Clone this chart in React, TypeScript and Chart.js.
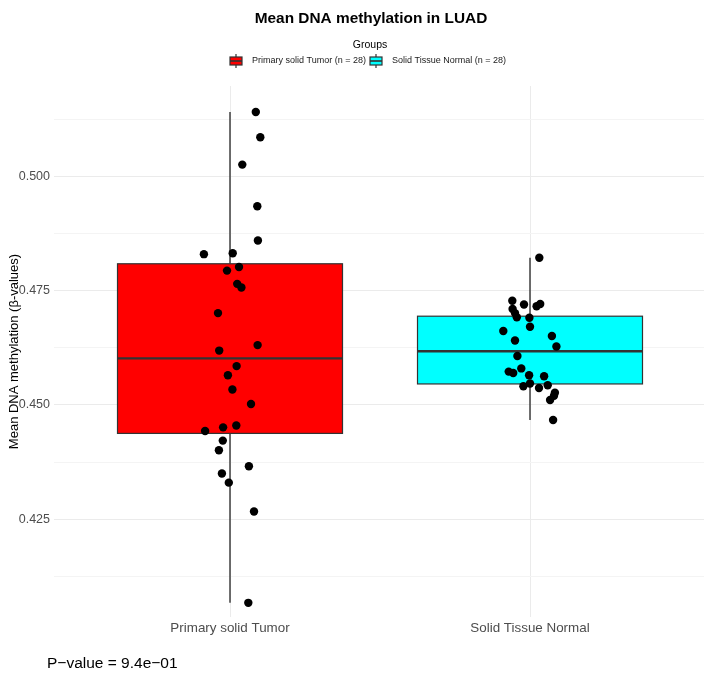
import { useEffect, useRef } from "react";
import { Chart, registerables } from "chart.js";

Chart.register(...registerables);

// Groups and their fills
const groups = ["Primary solid Tumor", "Solid Tissue Normal"];
const groupCounts = [28, 28];
const groupColors = ["#FF0000", "#00FFFF"];

// Per-sample mean methylation (beta values) and horizontal jitter offsets (category units)
const tumorValues = [
  0.5141, 0.5086, 0.5026, 0.4935, 0.486, 0.483, 0.4832, 0.4802, 0.4794, 0.4765,
  0.4757, 0.4701, 0.4631, 0.4619, 0.4585, 0.4565, 0.4534, 0.4502, 0.4455, 0.4451,
  0.4443, 0.4422, 0.4401, 0.4366, 0.435, 0.433, 0.4267, 0.4067,
];
const tumorJitter = [
  0.086, 0.101, 0.041, 0.091, 0.093, -0.087, 0.009, 0.03, -0.01, 0.024,
  0.038, -0.04, 0.092, -0.036, 0.022, -0.007, 0.008, 0.07, 0.021, -0.023,
  -0.083, -0.024, -0.037, 0.063, -0.027, -0.004, 0.08, 0.061,
];
const normalValues = [
  0.4822, 0.4728, 0.472, 0.4721, 0.4716, 0.471, 0.4701, 0.4692, 0.4691, 0.4671,
  0.4662, 0.4651, 0.4641, 0.4628, 0.4607, 0.458, 0.4573, 0.457, 0.4565, 0.4563,
  0.4547, 0.4541, 0.4537, 0.4543, 0.4527, 0.452, 0.4511, 0.4467,
];
const normalJitter = [
  0.031, -0.059, -0.02, 0.034, 0.022, -0.058, -0.05, -0.044, -0.002, 0.0,
  -0.089, 0.073, -0.05, 0.088, -0.042, -0.029, -0.071, -0.056, -0.003, 0.047,
  0.0, -0.022, 0.03, 0.059, 0.083, 0.08, 0.067, 0.077,
];

// Axis ticks
const yMajorTicks = [0.425, 0.45, 0.475, 0.5];
const yMinorTicks = [0.4125, 0.4375, 0.4625, 0.4875, 0.5125];
const yRange = [0.4036, 0.5198];
const xRange = [0.4133, 2.58];

const titleText = "Mean DNA methylation in LUAD";
const legendTitle = "Groups";
const yAxisTitle = "Mean DNA methylation (\u03b2-values)";
const pValueLabel = "P\u2212value = 9.4e\u221201";

const FONT = "'Liberation Sans', Arial, Helvetica, sans-serif";

function quantile(sorted: number[], p: number): number {
  const pos = (sorted.length - 1) * p;
  const lo = Math.floor(pos);
  const hi = Math.ceil(pos);
  return sorted[lo] + (sorted[hi] - sorted[lo]) * (pos - lo);
}

function boxStats(values: number[]) {
  const s = [...values].sort((a, b) => a - b);
  const q1 = quantile(s, 0.25);
  const med = quantile(s, 0.5);
  const q3 = quantile(s, 0.75);
  const iqr = q3 - q1;
  const lower = s.filter((v) => v >= q1 - 1.5 * iqr)[0];
  const upperAll = s.filter((v) => v <= q3 + 1.5 * iqr);
  const upper = upperAll[upperAll.length - 1];
  return { q1, med, q3, lower, upper };
}

const groupValues = [tumorValues, normalValues];

const boxPlugin = {
  id: "boxes",
  beforeDatasetsDraw(chart: any) {
    const { ctx, scales } = chart;
    const x = scales.x;
    const y = scales.y;
    groupValues.forEach((vals, i) => {
      const st = boxStats(vals);
      const xc = x.getPixelForValue(i + 1);
      const half = x.getPixelForValue(i + 1 + 0.375) - xc;
      ctx.save();
      ctx.strokeStyle = "#333333";
      // whiskers
      ctx.lineWidth = 1.4;
      ctx.beginPath();
      ctx.moveTo(xc, y.getPixelForValue(st.upper));
      ctx.lineTo(xc, y.getPixelForValue(st.q3));
      ctx.moveTo(xc, y.getPixelForValue(st.q1));
      ctx.lineTo(xc, y.getPixelForValue(st.lower));
      ctx.stroke();
      // box
      const top = y.getPixelForValue(st.q3);
      const bot = y.getPixelForValue(st.q1);
      ctx.fillStyle = groupColors[i];
      ctx.fillRect(xc - half, top, half * 2, bot - top);
      ctx.lineWidth = 1.2;
      ctx.strokeRect(xc - half, top, half * 2, bot - top);
      // median
      ctx.lineWidth = 2.4;
      const ym = y.getPixelForValue(st.med);
      ctx.beginPath();
      ctx.moveTo(xc - half, ym);
      ctx.lineTo(xc + half, ym);
      ctx.stroke();
      ctx.restore();
    });
  },
};

function drawKey(ctx: CanvasRenderingContext2D, cx: number, cy: number, color: string) {
  ctx.save();
  ctx.strokeStyle = "#333333";
  ctx.lineWidth = 1.2;
  ctx.beginPath();
  ctx.moveTo(cx, cy - 7);
  ctx.lineTo(cx, cy - 4);
  ctx.moveTo(cx, cy + 4);
  ctx.lineTo(cx, cy + 7);
  ctx.stroke();
  ctx.fillStyle = color;
  ctx.fillRect(cx - 6, cy - 4, 12, 8);
  ctx.strokeRect(cx - 6, cy - 4, 12, 8);
  ctx.lineWidth = 1.6;
  ctx.beginPath();
  ctx.moveTo(cx - 6, cy);
  ctx.lineTo(cx + 6, cy);
  ctx.stroke();
  ctx.restore();
}

const annotationPlugin = {
  id: "annotations",
  afterDraw(chart: any) {
    const ctx: CanvasRenderingContext2D = chart.ctx;
    ctx.save();
    ctx.fillStyle = "#000000";
    ctx.textBaseline = "middle";
    // title
    ctx.font = `bold 15.4px ${FONT}`;
    ctx.textAlign = "center";
    ctx.fillText(titleText, 371, 19);
    // legend
    ctx.font = `10.5px ${FONT}`;
    ctx.fillText(legendTitle, 370, 45);
    ctx.font = `9px ${FONT}`;
    ctx.textAlign = "left";
    const keyX = [236, 376];
    const textX = [252, 392];
    groups.forEach((g, i) => {
      drawKey(ctx, keyX[i], 61, groupColors[i]);
      ctx.fillStyle = "#1a1a1a";
      ctx.fillText(`${g} (n = ${groupCounts[i]})`, textX[i], 61);
    });
    // p-value
    ctx.fillStyle = "#000000";
    ctx.font = `15.5px ${FONT}`;
    ctx.fillText(pValueLabel, 47, 664);
    ctx.restore();
  },
};

const isMajor = (v: number) => yMajorTicks.some((t) => Math.abs(t - v) < 1e-9);

export default function App() {
  const canvasRef = useRef<HTMLCanvasElement | null>(null);

  useEffect(() => {
    if (!canvasRef.current) return;
    const pointData = (vals: number[], jit: number[], g: number) =>
      vals.map((v, k) => ({ x: g + jit[k], y: v }));

    const chart = new Chart(canvasRef.current, {
      type: "scatter",
      data: {
        datasets: [
          {
            label: groups[0],
            data: pointData(tumorValues, tumorJitter, 1),
            backgroundColor: "#000000",
            borderWidth: 0,
            pointRadius: 4.2,
          },
          {
            label: groups[1],
            data: pointData(normalValues, normalJitter, 2),
            backgroundColor: "#000000",
            borderWidth: 0,
            pointRadius: 4.2,
          },
        ],
      },
      options: {
        animation: false,
        responsive: false,
        devicePixelRatio: 1,
        layout: { autoPadding: false, padding: { top: 86, left: 0, right: 0, bottom: 0 } },
        plugins: {
          legend: { display: false },
          title: { display: false },
          tooltip: { enabled: false },
        },
        scales: {
          x: {
            type: "linear",
            min: xRange[0],
            max: xRange[1],
            afterBuildTicks: (s: any) => {
              s.ticks = groups.map((_, i) => ({ value: i + 1 }));
            },
            afterFit: (s: any) => {
              s.height = 58;
            },
            ticks: {
              callback: (v: any) => groups[Math.round(Number(v)) - 1] ?? "",
              color: "#4D4D4D",
              font: { family: FONT, size: 13.4 },
              padding: 3,
              maxRotation: 0,
              autoSkip: false,
            },
            grid: { color: "#EBEBEB", lineWidth: 1, drawTicks: false },
            border: { display: false },
          },
          y: {
            type: "linear",
            min: yRange[0],
            max: yRange[1],
            afterBuildTicks: (s: any) => {
              s.ticks = [...yMajorTicks, ...yMinorTicks]
                .sort((a, b) => a - b)
                .map((v) => ({ value: v }));
            },
            afterFit: (s: any) => {
              s.width = 54;
            },
            ticks: {
              callback: (v: any) => (isMajor(Number(v)) ? Number(v).toFixed(3) : ""),
              color: "#4D4D4D",
              font: { family: FONT, size: 12.5 },
              padding: 4,
              autoSkip: false,
            },
            grid: {
              color: (c: any) => (c.tick && isMajor(c.tick.value) ? "#EBEBEB" : "#F4F4F4"),
              lineWidth: 1,
              drawTicks: false,
            },
            border: { display: false },
            title: {
              display: true,
              text: yAxisTitle,
              color: "#000000",
              font: { family: FONT, size: 13 },
              padding: { top: 7, bottom: 0 },
            },
          },
        },
      },
      plugins: [boxPlugin, annotationPlugin],
    });
    return () => chart.destroy();
  }, []);

  return (
    <div style={{ position: "fixed", left: 0, top: 0, width: 704, height: 675, background: "#ffffff" }}>
      <canvas ref={canvasRef} width={704} height={675} style={{ width: 704, height: 675, display: "block" }} />
    </div>
  );
}
